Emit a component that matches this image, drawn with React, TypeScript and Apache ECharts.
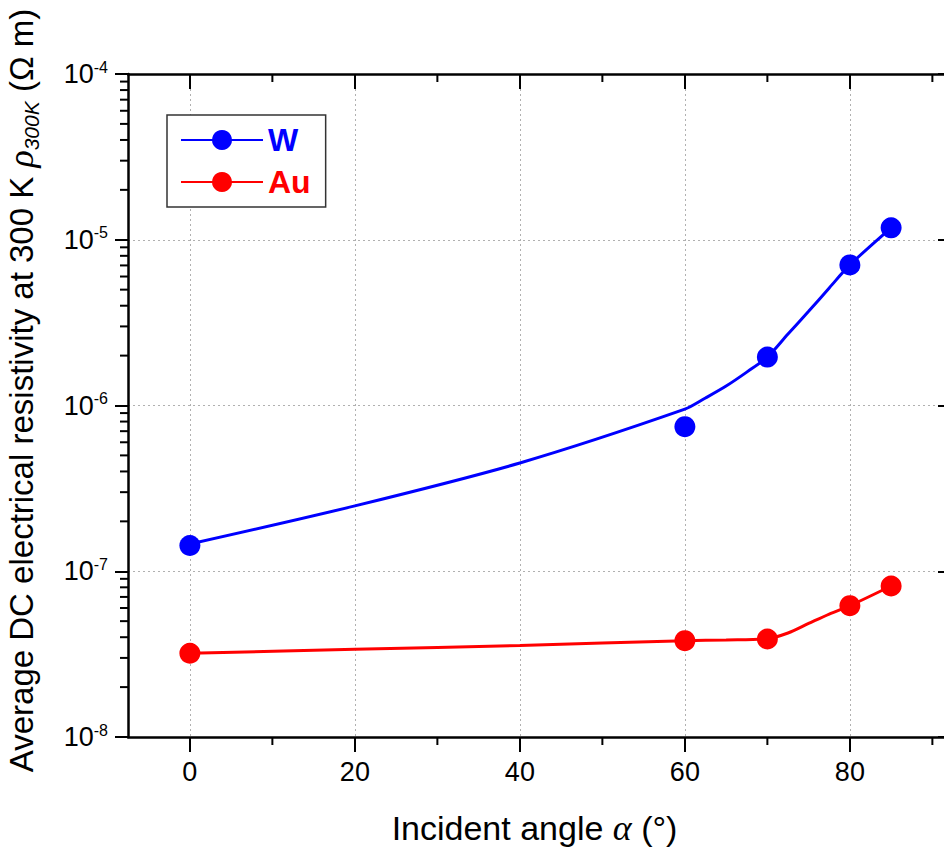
import React, { useEffect, useRef } from "react";
import * as echarts from "echarts";

// ---- data ----
const angles = [0, 60, 70, 80, 85];
const wValues = [1.43e-7, 7.45e-7, 1.96e-6, 7.05e-6, 1.18e-5];
const auValues = [3.2e-8, 3.81e-8, 3.9e-8, 6.2e-8, 8.15e-8];

// smooth guide curves (as drawn in the reference)
const wFitAngles = [0, 20, 40, 60, 62.5, 65, 67.5, 70, 72.5, 75, 77.5, 80, 85];
const wFitValues = [1.46e-7, 2.48e-7, 4.5e-7, 9.5e-7, 1.11e-6, 1.31e-6, 1.59e-6, 1.96e-6, 2.7e-6, 3.7e-6, 5.12e-6, 7.05e-6, 1.18e-5];
const auFitAngles = [0, 20, 40, 60, 65, 70, 72.5, 75, 77.5, 80, 85];
const auFitValues = [3.2e-8, 3.38e-8, 3.57e-8, 3.81e-8, 3.85e-8, 3.92e-8, 4.24e-8, 4.84e-8, 5.52e-8, 6.2e-8, 8.15e-8];

// axes
const X_MIN = -7.5;
const X_MAX = 92.5;
const X_MAJOR = [0, 20, 40, 60, 80];
const X_MINOR = [10, 30, 50, 70, 90];
const Y_MIN = 1e-8;
const Y_MAX = 1e-4;
const Y_DECADES = [1e-8, 1e-7, 1e-6, 1e-5];
const Y_MINOR_MULT = [2, 3, 4, 5, 6, 7, 8, 9];

const FONT = 'Arial, "Liberation Sans", sans-serif';
const SERIF = '"Liberation Serif", "DejaVu Serif", serif';
const BLUE = "#0000ff";
const RED = "#ff0000";

export default function App() {
  const ref = useRef<HTMLDivElement>(null);
  useEffect(() => {
    if (!ref.current) return;
    const chart = echarts.init(ref.current, undefined, { renderer: "svg" });
    const yMinor: number[][] = [];
    Y_DECADES.forEach((d) => Y_MINOR_MULT.forEach((m) => yMinor.push([X_MIN, d * m])));
    const tickStyle = { stroke: "#000", lineWidth: 2 };

    chart.setOption({
      animation: false,
      backgroundColor: "#fff",
      grid: { left: 128, top: 74, width: 825, height: 663, containLabel: false, outerBoundsMode: "none" },
      legend: {
        data: [
          { name: "W", textStyle: { color: BLUE } },
          { name: "Au", textStyle: { color: RED } },
        ],
        orient: "vertical",
        left: 167,
        top: 115,
        itemWidth: 82,
        itemHeight: 25,
        itemGap: 10,
        padding: [9, 15, 9, 13],
        borderColor: "#333",
        borderWidth: 1.5,
        backgroundColor: "#fff",
        textStyle: { fontFamily: FONT, fontSize: 32, fontWeight: "bold" },
      },
      xAxis: [
        {
          type: "value",
          min: X_MIN,
          max: X_MAX,
          position: "bottom",
          name: "{n|Incident angle }{i|α}{n| (°)}",
          nameLocation: "middle",
          nameGap: 73,
          nameTextStyle: {
            fontFamily: FONT,
            fontSize: 34,
            color: "#000",
            padding: [0, 12, 0, 0],
            rich: {
              n: { fontFamily: FONT, fontSize: 34, color: "#000" },
              i: { fontFamily: SERIF, fontSize: 36, fontStyle: "italic", color: "#000" },
            },
          },
          axisLine: { show: true, onZero: false, lineStyle: { color: "#000", width: 2.5 } },
          axisTick: { show: true, inside: false, length: 15, customValues: X_MAJOR, lineStyle: { color: "#000", width: 2 } },
          axisLabel: { customValues: X_MAJOR, margin: 21, fontFamily: FONT, fontSize: 27, color: "#000" },
          splitLine: { show: true, lineStyle: { color: "#b0b0b0", width: 1, type: [2, 3] } },
        },
        {
          type: "value",
          min: X_MIN,
          max: X_MAX,
          position: "top",
          axisLine: { show: true, onZero: false, lineStyle: { color: "#000", width: 2.5 } },
          axisTick: { show: true, inside: true, length: 15, customValues: X_MAJOR, lineStyle: { color: "#000", width: 2 } },
          axisLabel: { show: false },
          splitLine: { show: false },
        },
      ],
      yAxis: [
        {
          type: "log",
          logBase: 10,
          min: Y_MIN,
          max: Y_MAX,
          position: "left",
          name: "{n|Average DC electrical resistivity at 300 K }{i|ρ}{sub|300K}{n| (Ω m)}",
          nameLocation: "middle",
          nameRotate: 90,
          nameGap: 86,
          nameTextStyle: {
            fontFamily: FONT,
            fontSize: 33,
            color: "#000",
            padding: [0, 0, 0, 30],
            rich: {
              n: { fontFamily: FONT, fontSize: 33, lineHeight: 42, color: "#000" },
              i: { fontFamily: SERIF, fontSize: 36, lineHeight: 42, fontStyle: "italic", color: "#000" },
              sub: { fontFamily: FONT, fontSize: 21, fontStyle: "italic", verticalAlign: "bottom", color: "#000" },
            },
          },
          axisLine: { show: true, onZero: false, lineStyle: { color: "#000", width: 2.5 } },
          axisTick: { show: true, inside: false, length: 13, lineStyle: { color: "#000", width: 2 } },
          axisLabel: {
            margin: 20,
            formatter: (v: number) => `{b|10}{s|${Math.round(Math.log10(v))}}`,
            rich: {
              b: { fontFamily: FONT, fontSize: 27, lineHeight: 30, color: "#000" },
              s: { fontFamily: FONT, fontSize: 16, verticalAlign: "top", color: "#000" },
            },
          },
          splitLine: { show: true, lineStyle: { color: "#b0b0b0", width: 1, type: [2, 3] } },
        },
        {
          type: "log",
          logBase: 10,
          min: Y_MIN,
          max: Y_MAX,
          position: "right",
          axisLine: { show: true, onZero: false, lineStyle: { color: "#000", width: 2.5 } },
          axisTick: { show: true, inside: true, length: 15, lineStyle: { color: "#000", width: 2 } },
          axisLabel: { show: false },
          splitLine: { show: false },
        },
      ],
      series: [
        {
          name: "W",
          type: "line",
          xAxisIndex: 0,
          yAxisIndex: 0,
          data: wFitAngles.map((a, i) => [a, wFitValues[i]]),
          smooth: 0.3,
          showSymbol: false,
          symbol: "circle",
          symbolSize: 20,
          itemStyle: { color: BLUE },
          lineStyle: { color: BLUE, width: 3 },
          z: 3,
        },
        {
          name: "Au",
          type: "line",
          xAxisIndex: 0,
          yAxisIndex: 0,
          data: auFitAngles.map((a, i) => [a, auFitValues[i]]),
          smooth: 0.3,
          showSymbol: false,
          symbol: "circle",
          symbolSize: 20,
          itemStyle: { color: RED },
          lineStyle: { color: RED, width: 3 },
          z: 3,
        },
        {
          name: "W points",
          type: "scatter",
          xAxisIndex: 0,
          yAxisIndex: 0,
          data: angles.map((a, i) => [a, wValues[i]]),
          symbol: "circle",
          symbolSize: 21,
          itemStyle: { color: BLUE, opacity: 1 },
          z: 4,
        },
        {
          name: "Au points",
          type: "scatter",
          xAxisIndex: 0,
          yAxisIndex: 0,
          data: angles.map((a, i) => [a, auValues[i]]),
          symbol: "circle",
          symbolSize: 21,
          itemStyle: { color: RED, opacity: 1 },
          z: 4,
        },
        {
          name: "y minor ticks",
          type: "custom",
          coordinateSystem: "cartesian2d",
          xAxisIndex: 0,
          yAxisIndex: 0,
          clip: false,
          silent: true,
          z: 5,
          data: yMinor,
          renderItem: (_p: any, api: any) => {
            const v = api.value(1);
            const l = api.coord([X_MIN, v]);
            const r = api.coord([X_MAX, v]);
            return {
              type: "group",
              children: [
                { type: "line", shape: { x1: l[0] - 8, y1: l[1], x2: l[0], y2: l[1] }, style: tickStyle },
                { type: "line", shape: { x1: r[0] - 9, y1: r[1], x2: r[0], y2: r[1] }, style: tickStyle },
              ],
            };
          },
        },
        {
          name: "x minor ticks",
          type: "custom",
          coordinateSystem: "cartesian2d",
          xAxisIndex: 0,
          yAxisIndex: 0,
          clip: false,
          silent: true,
          z: 5,
          data: X_MINOR.map((v) => [v, Y_MIN]),
          renderItem: (_p: any, api: any) => {
            const v = api.value(0);
            const b = api.coord([v, Y_MIN]);
            const t = api.coord([v, Y_MAX]);
            return {
              type: "group",
              children: [
                { type: "line", shape: { x1: b[0], y1: b[1], x2: b[0], y2: b[1] + 8 }, style: tickStyle },
                { type: "line", shape: { x1: t[0], y1: t[1], x2: t[0], y2: t[1] + 8 }, style: tickStyle },
              ],
            };
          },
        },
      ],
    });
    return () => chart.dispose();
  }, []);
  return (
    <div
      ref={ref}
      style={{ position: "absolute", left: 0, top: 0, width: 944, height: 850, overflow: "hidden" }}
    />
  );
}
